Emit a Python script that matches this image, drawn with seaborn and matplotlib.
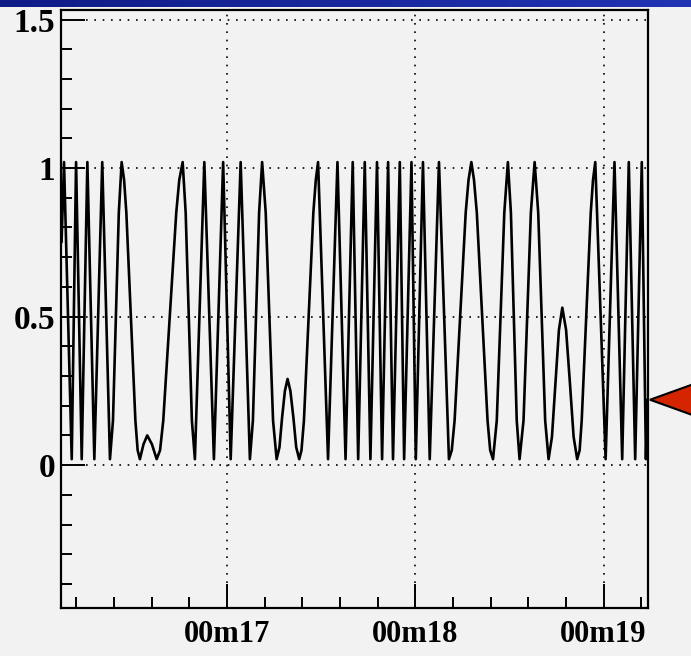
import matplotlib
matplotlib.use("Agg")
import matplotlib.pyplot as plt
import numpy as np
import pandas as pd
import seaborn as sns
from matplotlib.patches import Polygon
from matplotlib.transforms import IdentityTransform

# ---------------- data ----------------
time_s = [16.122, 16.135, 16.176, 16.199, 16.229, 16.259, 16.296, 16.338, 16.379, 16.395,
          16.426, 16.441, 16.454, 16.466, 16.514, 16.526, 16.538, 16.557, 16.577, 16.602,
          16.627, 16.645, 16.662, 16.731, 16.747, 16.765, 16.781, 16.814, 16.830, 16.880,
          16.931, 16.980, 17.020, 17.073, 17.122, 17.138, 17.171, 17.187, 17.206, 17.245,
          17.264, 17.279, 17.293, 17.308, 17.322, 17.337, 17.353, 17.368, 17.384, 17.396,
          17.409, 17.459, 17.472, 17.484, 17.537, 17.587, 17.630, 17.668, 17.697, 17.732,
          17.762, 17.797, 17.824, 17.856, 17.882, 17.918, 17.941, 17.980, 18.003, 18.041,
          18.077, 18.126, 18.179, 18.194, 18.209, 18.268, 18.283, 18.298, 18.312, 18.327,
          18.384, 18.398, 18.413, 18.433, 18.473, 18.492, 18.508, 18.539, 18.554, 18.575,
          18.614, 18.634, 18.653, 18.690, 18.708, 18.726, 18.745, 18.763, 18.781, 18.801,
          18.821, 18.841, 18.860, 18.873, 18.884, 18.932, 18.944, 18.956, 19.011, 19.058,
          19.099, 19.134, 19.168, 19.203, 19.225, 19.233]
signal = [0.75, 1.02, 0.02, 1.02, 0.02, 1.02, 0.02, 1.02, 0.02, 0.15,
          0.85, 1.02, 0.96, 0.85, 0.15, 0.05, 0.02, 0.07, 0.10, 0.07,
          0.02, 0.05, 0.15, 0.85, 0.96, 1.02, 0.85, 0.15, 0.02, 1.02,
          0.02, 1.02, 0.02, 1.02, 0.02, 0.15, 0.85, 1.02, 0.85, 0.15,
          0.02, 0.06, 0.16, 0.25, 0.29, 0.25, 0.16, 0.06, 0.02, 0.05,
          0.15, 0.85, 0.96, 1.02, 0.02, 1.02, 0.02, 1.02, 0.02, 1.02,
          0.02, 1.02, 0.02, 1.02, 0.02, 1.02, 0.02, 1.02, 0.02, 1.02,
          0.02, 1.02, 0.02, 0.05, 0.15, 0.85, 0.96, 1.02, 0.96, 0.85,
          0.15, 0.05, 0.02, 0.15, 0.85, 1.02, 0.85, 0.15, 0.02, 0.15,
          0.85, 1.02, 0.85, 0.15, 0.02, 0.095, 0.28, 0.455, 0.53, 0.455,
          0.28, 0.095, 0.02, 0.05, 0.15, 0.85, 0.96, 1.02, 0.02, 1.02,
          0.02, 1.02, 0.02, 1.02, 0.02, 0.22]

xtick_pos = [17, 18, 19]
xtick_labels = ["00m17", "00m18", "00m19"]
ytick_pos = [0, 0.5, 1, 1.5]
ytick_labels = ["0", "0.5", "1", "1.5"]
current_value = 0.22

x_range = (16.119, 19.236)
y_range = (-0.481, 1.532)

# ---------------- style ----------------
sns.set_style("ticks")
BG = "#f2f2f2"
plt.rcParams["font.family"] = ["Liberation Serif", "DejaVu Serif"]

fig = plt.figure(figsize=(6.91, 6.56), dpi=100, facecolor=BG)
ax = fig.add_axes([61 / 691, 1 - 608 / 656, 587 / 691, 598 / 656])
ax.set_facecolor(BG)

df = pd.DataFrame({"t": time_s, "v": signal})
sns.lineplot(data=df, x="t", y="v", ax=ax, estimator=None, sort=False,
             color="black", linewidth=1.9, zorder=3)

ax.set_xlim(*x_range)
ax.set_ylim(*y_range)
ax.set_xlabel("")
ax.set_ylabel("")

ax.set_xticks(xtick_pos)
ax.set_xticklabels(xtick_labels, fontsize=22, fontweight="bold")
ax.set_yticks(ytick_pos)
ax.set_yticklabels(ytick_labels, fontsize=24, fontweight="bold")
ax.xaxis.set_minor_locator(matplotlib.ticker.MultipleLocator(0.2))
ax.yaxis.set_minor_locator(matplotlib.ticker.MultipleLocator(0.1))

ax.tick_params(axis="both", which="major", direction="in", length=17, width=1.4,
               color="black", labelcolor="black")
ax.tick_params(axis="both", which="minor", direction="in", length=8, width=1.4,
               color="black")
ax.tick_params(axis="x", which="major", pad=9)
ax.tick_params(axis="y", which="major", pad=4)
ax.tick_params(top=False, right=False, which="both")

ax.grid(True, which="major", color="black", linestyle=(0, (1, 4)), linewidth=1.2)
ax.set_axisbelow(True)

for s in ax.spines.values():
    s.set_color("black")
    s.set_linewidth(1.6)
    s.set_visible(True)

# top blue band (slide header)
band = fig.add_axes([0, 1 - 7 / 656, 1, 7 / 656], zorder=10)
grad = np.linspace(0, 1, 256).reshape(1, -1)
cmap = matplotlib.colors.LinearSegmentedColormap.from_list("band", ["#0f1c86", "#2233b4"])
band.imshow(grad, aspect="auto", cmap=cmap, extent=[0, 1, 0, 1])
band.set_axis_off()

# red indicator arrow at current value
fig.canvas.draw()
tip = ax.transData.transform((x_range[1], current_value))
tx, ty = tip[0] + 2, tip[1]
tri = Polygon([[tx, ty], [tx + 75, ty + 27], [tx + 75, ty - 27]], closed=True,
              transform=IdentityTransform(), facecolor="#d42400", edgecolor="black",
              linewidth=1.5, zorder=20)
fig.patches.append(tri)

fig.savefig("out.png", dpi=100, facecolor=BG)
